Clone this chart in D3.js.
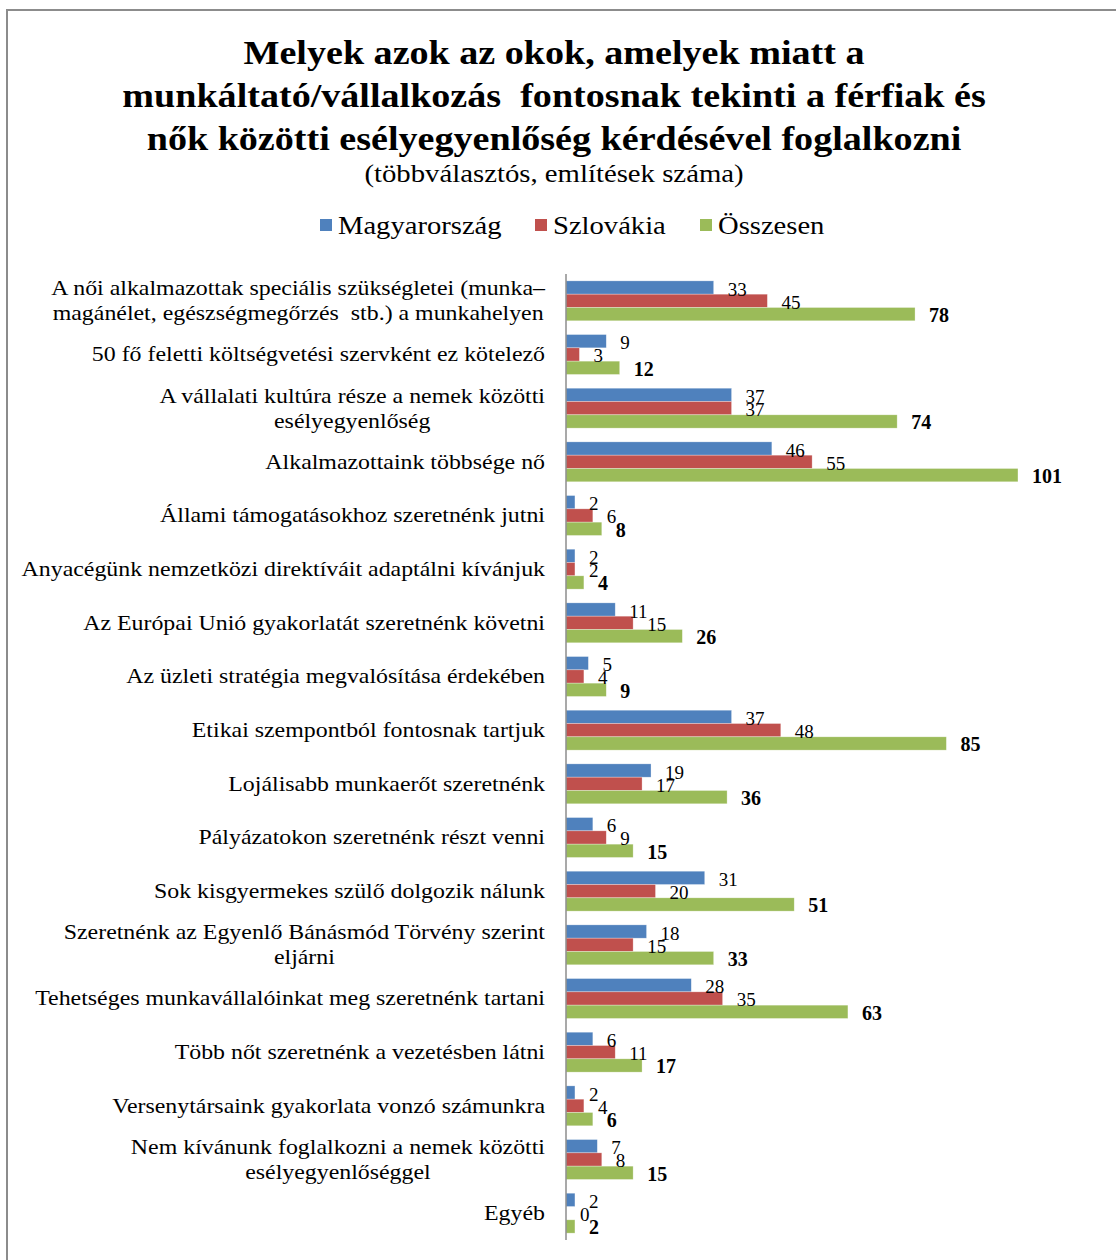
<!DOCTYPE html>
<html>
<head>
<meta charset="utf-8">
<script src="https://cdnjs.cloudflare.com/ajax/libs/d3/7.8.5/d3.min.js"></script>
<style>
  body { margin: 0; background: #fff; }
  svg text { font-family: "Liberation Serif", "Times New Roman", serif; fill: #000; }
</style>
</head>
<body>
<div id="chart"></div>
<script>
// Chart data
const categories = [
    "A női alkalmazottak speciális szükségletei (munka–\nmagánélet, egészségmegőrzés  stb.) a munkahelyen",
    "50 fő feletti költségvetési szervként ez kötelező",
    "A vállalati kultúra része a nemek közötti\nesélyegyenlőség",
    "Alkalmazottaink többsége nő",
    "Állami támogatásokhoz szeretnénk jutni",
    "Anyacégünk nemzetközi direktíváit adaptálni kívánjuk",
    "Az Európai Unió gyakorlatát szeretnénk követni",
    "Az üzleti stratégia megvalósítása érdekében",
    "Etikai szempontból fontosnak tartjuk",
    "Lojálisabb munkaerőt szeretnénk",
    "Pályázatokon szeretnénk részt venni",
    "Sok kisgyermekes szülő dolgozik nálunk",
    "Szeretnénk az Egyenlő Bánásmód Törvény szerint\neljárni",
    "Tehetséges munkavállalóinkat meg szeretnénk tartani",
    "Több nőt szeretnénk a vezetésben látni",
    "Versenytársaink gyakorlata vonzó számunkra",
    "Nem kívánunk foglalkozni a nemek közötti\nesélyegyenlőséggel",
    "Egyéb"
];
const seriesNames = ["Magyarország", "Szlovákia", "Összesen"];
const magyarorszag = [33, 9, 37, 46, 2, 2, 11, 5, 37, 19, 6, 31, 18, 28, 6, 2, 7, 2];
const szlovakia    = [45, 3, 37, 55, 6, 2, 15, 4, 48, 17, 9, 20, 15, 35, 11, 4, 8, 0];
const osszesen     = [78, 12, 74, 101, 8, 4, 26, 9, 85, 36, 15, 51, 33, 63, 17, 6, 15, 2];
const colors = ["#4F81BD", "#C0504D", "#9BBB59"];

const titleLines = [
    "Melyek azok az okok, amelyek miatt a",
    "munkáltató/vállalkozás  fontosnak tekinti a férfiak és",
    "nők közötti esélyegyenlőség kérdésével foglalkozni"
];
const subtitle = "(többválasztós, említések száma)";

const width = 1116, height = 1260;

const svg = d3.select('#chart')
    .append('svg')
    .attr('width', width)
    .attr('height', height);

// Frame
svg.append('rect')
    .attr('x', 7).attr('y', 10)
    .attr('width', width + 10).attr('height', height + 10)
    .attr('fill', 'none')
    .attr('stroke', '#8c8c8c')
    .attr('stroke-width', 2);

// Title (the source font is a bit wider than Liberation Serif, so stretch it)
svg.append('g').selectAll('text')
    .data(titleLines)
    .enter()
    .append('text')
    .attr('transform', (d, i) => `translate(554,${64 + i * 43}) scale(1.155,1)`)
    .attr('text-anchor', 'middle')
    .style('font-size', '33px')
    .style('font-weight', 'bold')
    .style('white-space', 'pre')
    .text(d => d);

svg.append('text')
    .attr('transform', 'translate(554,182) scale(1.15,1)')
    .attr('text-anchor', 'middle')
    .style('font-size', '25px')
    .text(subtitle);

// Legend
const legendX = [320, 535, 700];
const legend = svg.append('g').selectAll('g')
    .data(seriesNames)
    .enter()
    .append('g')
    .attr('transform', (d, i) => `translate(${legendX[i]},225)`);
legend.append('rect')
    .attr('x', 0).attr('y', -6)
    .attr('width', 12).attr('height', 12)
    .attr('fill', (d, i) => colors[i]);
legend.append('text')
    .attr('transform', 'translate(18,9) scale(1.1,1)')
    .style('font-size', '26px')
    .text(d => d);

// Scales
const x = d3.scaleLinear().domain([0, 120]).range([566, 1103]);
const y = d3.scaleBand()
    .domain(categories)
    .range([274, 1240])
    .paddingInner(0.256)
    .paddingOuter(0.128);
const ySeries = d3.scaleBand()
    .domain(seriesNames)
    .range([0, y.bandwidth()]);

const rows = categories.map((c, i) => ({
    cat: c,
    vals: [magyarorszag[i], szlovakia[i], osszesen[i]]
}));

const groups = svg.append('g').selectAll('g')
    .data(rows)
    .enter()
    .append('g')
    .attr('transform', d => `translate(0,${y(d.cat)})`);

// Bars
groups.selectAll('rect')
    .data(d => d.vals.map((v, k) => ({ v, k })))
    .enter()
    .append('rect')
    .attr('x', x(0))
    .attr('y', d => ySeries(seriesNames[d.k]))
    .attr('width', d => x(d.v) - x(0))
    .attr('height', ySeries.bandwidth())
    .attr('fill', d => colors[d.k])
    .attr('stroke', 'rgba(255,255,255,0.5)')
    .attr('stroke-width', 0.6);

// Value labels
groups.selectAll('text.val')
    .data(d => d.vals.map((v, k) => ({ v, k })))
    .enter()
    .append('text')
    .attr('class', 'val')
    .attr('x', d => x(d.v) + 14)
    .attr('y', d => ySeries(seriesNames[d.k]) + ySeries.bandwidth() / 2 + 8)
    .style('font-size', d => d.k === 2 ? '20px' : '19px')
    .style('font-weight', d => d.k === 2 ? 'bold' : 'normal')
    .text(d => d.v);

// Category labels
const labelScale = 1.137;
groups.each(function(d) {
    const lines = d.cat.split('\n');
    const lh = 25;
    const t = d3.select(this).append('text')
        .attr('transform', `translate(545,0) scale(${labelScale},1)`)
        .attr('text-anchor', 'end')
        .style('font-size', '21px')
        .style('white-space', 'pre');
    lines.forEach((ln, j) => {
        t.append('tspan')
            .attr('x', 0)
            .attr('y', y.bandwidth() / 2 + 7 + (j - (lines.length - 1) / 2) * lh)
            .text(ln);
    });
    // second lines are centred under the first line
    if (lines.length > 1) {
        const w = t.select('tspan').node().getComputedTextLength();
        t.selectAll('tspan').filter((e, j) => j === 1)
            .attr('x', -w / 2)
            .attr('text-anchor', 'middle');
    }
});

// Category axis line
svg.append('line')
    .attr('x1', x(0)).attr('x2', x(0))
    .attr('y1', y.range()[0]).attr('y2', y.range()[1])
    .attr('stroke', '#8c8c8c')
    .attr('stroke-width', 1.5);
</script>
</body>
</html>
